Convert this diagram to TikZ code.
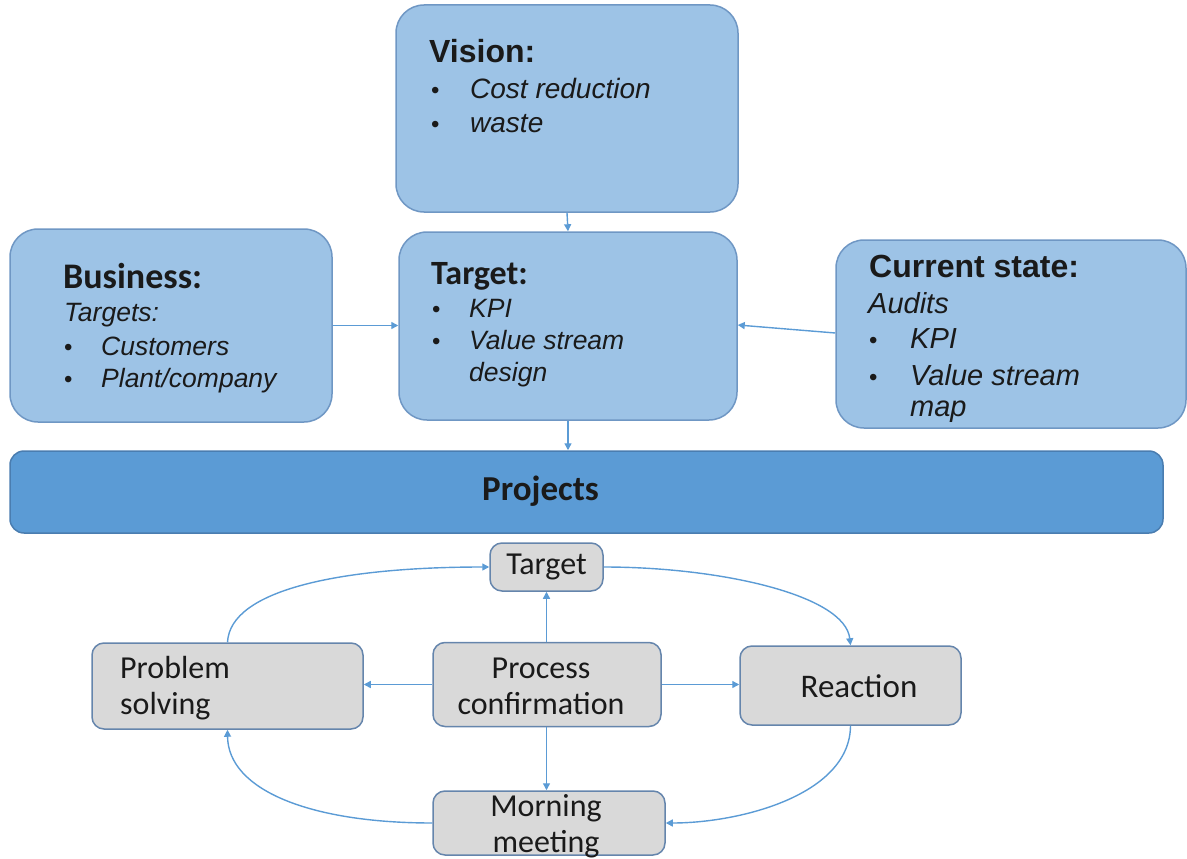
\documentclass[tikz,border=0pt]{standalone}
\usepackage{fontspec}
\newfontfamily\arial{Liberation Sans}
\newfontfamily\calib{Carlito}
\usetikzlibrary{arrows.meta}
\definecolor{ublue}{HTML}{9DC3E6}
\definecolor{ubord}{HTML}{6F97C4}
\definecolor{pblue}{HTML}{5B9BD5}
\definecolor{pbord}{HTML}{4A7DB0}
\definecolor{lgrey}{HTML}{D9D9D9}
\definecolor{gbord}{HTML}{6585AC}
\definecolor{arr}{HTML}{5B9BD5}
\definecolor{txt}{HTML}{1A1A1A}
\tikzset{
  ubox/.style={draw=ubord, fill=ublue, line width=1.5pt, rounded corners=28pt, inner sep=0pt},
  pbox/.style={draw=pbord, fill=pblue, line width=1.5pt, rounded corners=14pt, inner sep=0pt},
  gbox/.style={draw=gbord, fill=lgrey, line width=1.5pt, rounded corners=12pt, inner sep=0pt},
  conn/.style={draw=arr, line width=1.4pt, -{Triangle[length=7pt,width=7pt]}},
  ln/.style={anchor=base west, inner sep=0pt, text=txt},
  hd/.style={ln, font=\arial\bfseries\fontsize{32}{36}\selectfont},
  hdc/.style={ln, font=\calib\bfseries\fontsize{34}{38}\selectfont},
  it/.style={ln, font=\arial\itshape\fontsize{26.5}{30}\selectfont},
  itv/.style={ln, font=\arial\itshape\fontsize{28}{30}\selectfont},
  itc/.style={ln, font=\arial\itshape\fontsize{29}{30}\selectfont},
  bu/.style={ln, font=\arial\fontsize{24}{30}\selectfont},
  lt/.style={text=txt, inner sep=0pt, align=center, font=\calib\fontsize{32}{36}\selectfont},
}
\begin{document}
\begin{tikzpicture}[x=1pt,y=-1pt]
\useasboundingbox (0,0) rectangle (1187,859);
% upper boxes
\node[ubox, minimum width=342pt, minimum height=207pt] (vision) at (567,108.5) {};
\node[ubox, minimum width=338pt, minimum height=188pt] (target) at (568,326) {};
\node[ubox, minimum width=322pt, minimum height=193pt] (business) at (171,325.5) {};
\node[ubox, minimum width=350pt, minimum height=188pt] (current) at (1011,334) {};
\node[pbox, minimum width=1153pt, minimum height=82pt] (projects) at (586.5,492) {};
% vision text
\node[hd] (v0) at (429,63) {Vision:};
\node[bu] (v1b) at (431,99) {•};
\node[itv] (v1) at (470,99) {Cost reduction};
\node[bu] (v2b) at (431,132) {•};
\node[itv] (v2) at (470,132) {waste};
% target text
\node[hdc] (t0) at (431,284) {Target:};
\node[bu] (t1b) at (432,317) {•};
\node[it] (t1) at (469,317) {KPI};
\node[bu] (t2b) at (432,349) {•};
\node[it] (t2) at (469,349) {Value stream};
\node[it] (t3) at (469,381) {design};
% business text
\node[ln, font=\calib\bfseries\fontsize{36}{40}\selectfont] (b0) at (63,288) {Business:};
\node[it] (b1) at (64,321) {Targets:};
\node[bu] (b2b) at (64,355) {•};
\node[it] (b2) at (101,355) {Customers};
\node[bu] (b3b) at (64,387) {•};
\node[it] (b3) at (101,387) {Plant/company};
% current state text
\node[hd] (c0) at (869,277) {Current state:};
\node[itc] (c1) at (868,313) {Audits};
\node[bu] (c2b) at (869,348) {•};
\node[itc] (c2) at (910,348) {KPI};
\node[bu] (c3b) at (869,385) {•};
\node[itc] (c3) at (910,385) {Value stream};
\node[itc] (c4) at (910,416) {map};
% projects text
\node[ln, font=\calib\bfseries\fontsize{35}{38}\selectfont] (p0) at (482,500) {Projects};
% lower boxes
\node[gbox, minimum width=113pt, minimum height=48pt] (tsmall) at (546.5,567) {};
\node[lt] (tsmallt) at (546.5,567) {Target};
\node[gbox, minimum width=228pt, minimum height=84pt] (proc) at (547,684.5) {};
\node[lt] (proct) at (541,686) {Process\\[0pt]confirmation};
\node[gbox, minimum width=271pt, minimum height=86pt] (prob) at (227.5,686) {};
\node[lt, align=left, anchor=west] (probt) at (120,688) {Problem\\[0pt]solving};
\node[gbox, minimum width=221pt, minimum height=79pt] (react) at (850.5,685.5) {};
\node[lt, font=\calib\fontsize{33}{36}\selectfont] (reactt) at (859,686) {Reaction};
\node[gbox, minimum width=232pt, minimum height=64pt] (morn) at (549,823) {};
\node[lt] (mornt) at (546,826) {Morning\\[0pt]meeting};
% upper connectors
\draw[conn] (vision.south) -- (target.north);
\draw[conn] (business.east) -- (business.east -| target.west);
\draw[conn] (current.west) ++(0,-1) -- ([yshift=1pt]target.east);
\draw[conn] (target.south) -- (target.south |- projects.north);
% lower connectors
\draw[conn] (proc.north -| tsmall.south) -- (tsmall.south);
\draw[conn] (proc.west) -- (proc.west -| prob.east);
\draw[conn] (proc.east) -- (proc.east -| react.west);
\draw[conn] (proc.south -| tsmall.south) -- (morn.north -| tsmall.south);
\draw[conn] (prob.north) .. controls (230,590) and (340,567) .. (tsmall.west);
\draw[conn] (tsmall.east) .. controls (720,567) and (845,595) .. (react.north);
\draw[conn] (react.south) .. controls (850,795) and (740,823) .. (morn.east);
\draw[conn] (morn.west) .. controls (310,823) and (228,790) .. (prob.south);
\end{tikzpicture}
\end{document}
